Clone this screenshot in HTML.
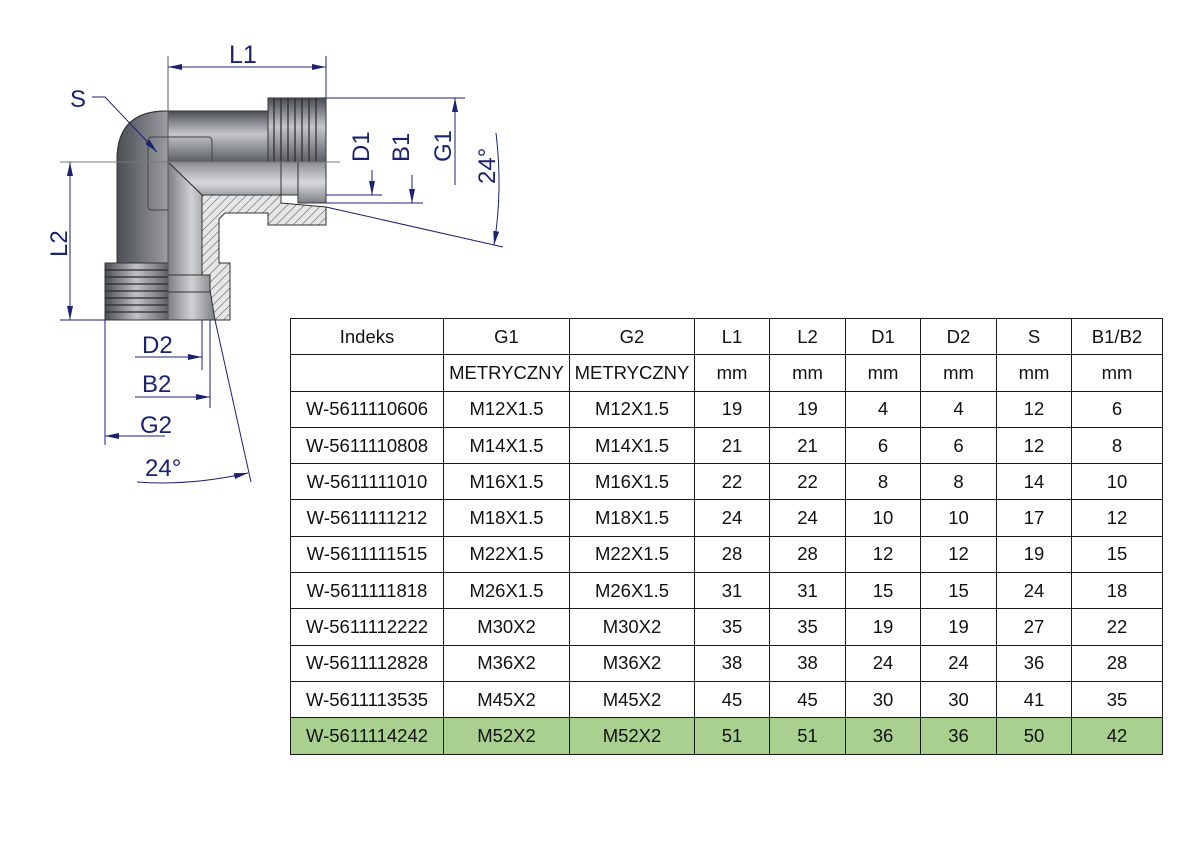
<!DOCTYPE html>
<html><head><meta charset="utf-8"><style>
body{margin:0;width:1191px;height:842px;background:#fff;position:relative;overflow:hidden;font-family:"Liberation Sans",sans-serif}
table{position:absolute;left:290px;top:318px;border-collapse:collapse;table-layout:fixed}
td{border:1.3px solid #1a1a1a;height:35.3px;padding:0;text-align:center;font-size:18.5px;color:#111;white-space:nowrap;overflow:hidden}
tr.g td{background:#a9d08e}
svg{position:absolute;left:0;top:0}
.t{font-family:"Liberation Sans",sans-serif;font-size:24px;fill:#1b2270}
</style></head><body>
<svg width="1191" height="842" viewBox="0 0 1191 842">
<defs>
<linearGradient id="gv" x1="0" y1="0" x2="0" y2="1"><stop offset="0" stop-color="#4a4e54"/><stop offset=".45" stop-color="#c4c6c9"/><stop offset="1" stop-color="#5a5e64"/></linearGradient>
<linearGradient id="gh" x1="0" y1="0" x2="1" y2="0"><stop offset="0" stop-color="#4a4e54"/><stop offset=".5" stop-color="#c0c2c5"/><stop offset="1" stop-color="#606469"/></linearGradient>
<linearGradient id="gb" x1="0" y1="0" x2="0" y2="1"><stop offset="0" stop-color="#8a8d92"/><stop offset=".5" stop-color="#d8d9db"/><stop offset="1" stop-color="#7c8085"/></linearGradient>
<linearGradient id="gbv" x1="0" y1="0" x2="1" y2="0"><stop offset="0" stop-color="#7c8085"/><stop offset=".5" stop-color="#d0d1d4"/><stop offset="1" stop-color="#7c8085"/></linearGradient>
<pattern id="hatch" width="6" height="6" patternUnits="userSpaceOnUse" patternTransform="rotate(45)"><rect width="6" height="6" fill="#e6e6e6"/><line x1="0" y1="0" x2="0" y2="6" stroke="#555" stroke-width="1"/></pattern>
<marker id="a" markerWidth="14" markerHeight="6" refX="14" refY="3" orient="auto" markerUnits="userSpaceOnUse"><path d="M0,0 L14,3 L0,6 z" fill="#1b2270"/></marker>
</defs>
<g stroke="#333" stroke-width="1">
<path d="M117,263 L117,160 Q117,111 166,111 L268,111 L268,162 L168,162 L168,263 Z" fill="url(#gh)"/>
<rect x="168" y="111" width="100" height="51" fill="url(#gv)" stroke="none"/>
<path d="M117,263 L117,160 Q117,111 166,111 L268,111" fill="none"/>
<rect x="268" y="98" width="58" height="64" fill="url(#gv)"/>
<g stroke="#2a2a2a" stroke-width="1.2">
<line x1="274" y1="98" x2="274" y2="162"/><line x1="281" y1="98" x2="281" y2="162"/><line x1="288" y1="98" x2="288" y2="162"/><line x1="295" y1="98" x2="295" y2="162"/><line x1="302" y1="98" x2="302" y2="162"/><line x1="309" y1="98" x2="309" y2="162"/><line x1="316" y1="98" x2="316" y2="162"/></g>
<path d="M168,162 L326,162 L326,203 L298,203 L298,195 L202,195 Z" fill="url(#gb)"/>
<line x1="281" y1="162" x2="281" y2="203"/><line x1="298" y1="162" x2="298" y2="203"/>
<path d="M168,162 L202,195 L202,275 L210,275 L215,320 L168,320 Z" fill="url(#gbv)"/>
<line x1="168" y1="275" x2="210" y2="275"/><line x1="168" y1="292" x2="210" y2="292"/>
<path d="M202,195 L281,195 L281,203 L326,207 L326,225 L268,225 L268,213 L225,213 L219,219 L219,263 L230,263 L230,320 L215,320 L210,290 L210,275 L202,275 Z" fill="url(#hatch)"/>
<rect x="105" y="263" width="63" height="57" fill="url(#gh)"/>
<g stroke="#2a2a2a" stroke-width="1.2">
<line x1="105" y1="270" x2="168" y2="270"/><line x1="105" y1="277" x2="168" y2="277"/><line x1="105" y1="284" x2="168" y2="284"/><line x1="105" y1="291" x2="168" y2="291"/><line x1="105" y1="298" x2="168" y2="298"/><line x1="105" y1="305" x2="168" y2="305"/><line x1="105" y1="312" x2="168" y2="312"/></g>
<path d="M168,210 L152,210 Q148,210 148,206 L148,141 Q148,137 152,137 L208,137 Q212,137 212,141 L212,162" fill="none" stroke="#444"/>
</g>
<g stroke="#1b2270" stroke-width="1" fill="none">
<line x1="168" y1="56" x2="168" y2="320" stroke="#555"/>
<line x1="326" y1="56" x2="326" y2="98"/>
<line x1="168" y1="67" x2="326" y2="67" marker-end="url(#a)"/>
<line x1="326" y1="67" x2="168" y2="67" marker-end="url(#a)"/>
<line x1="60" y1="162" x2="340" y2="162" stroke="#777"/>
<line x1="60" y1="320" x2="105" y2="320"/>
<line x1="70" y1="320" x2="70" y2="162" marker-end="url(#a)"/>
<line x1="70" y1="162" x2="70" y2="320" marker-end="url(#a)"/>
<path d="M92,97 L105,97 L157,152" marker-end="url(#a)"/>
<line x1="326" y1="195" x2="382" y2="195"/>
<line x1="372" y1="170" x2="372" y2="195" marker-end="url(#a)"/>
<line x1="326" y1="203" x2="423" y2="203"/>
<line x1="412" y1="175" x2="412" y2="203" marker-end="url(#a)"/>
<line x1="326" y1="98" x2="465" y2="98"/>
<line x1="455" y1="185" x2="455" y2="98" marker-end="url(#a)"/>
<line x1="326" y1="207" x2="503" y2="247"/>
<path d="M496,133 Q503,190 494,245" marker-end="url(#a)"/>
<line x1="202" y1="320" x2="202" y2="370"/>
<line x1="135" y1="357" x2="202" y2="357" marker-end="url(#a)"/>
<line x1="210" y1="320" x2="210" y2="408"/>
<line x1="135" y1="397" x2="210" y2="397" marker-end="url(#a)"/>
<line x1="105" y1="320" x2="105" y2="445"/>
<line x1="165" y1="436" x2="105" y2="436" marker-end="url(#a)"/>
<line x1="215" y1="320" x2="251" y2="482"/>
<path d="M137,482 Q190,486 248,473" marker-end="url(#a)"/>
</g>
<g class="t">
<text x="229" y="63" style="font-size:25px">L1</text>
<text x="70" y="107">S</text>
<text x="142" y="353">D2</text>
<text x="142" y="392">B2</text>
<text x="140" y="433">G2</text>
<text x="145" y="476">24°</text>
<text transform="translate(67,257) rotate(-90)">L2</text>
<text transform="translate(369,162) rotate(-90)">D1</text>
<text transform="translate(409,162) rotate(-90)">B1</text>
<text transform="translate(451,162) rotate(-90)">G1</text>
<text transform="translate(495,184) rotate(-90)">24°</text>
</g>
</svg>
<table>
<colgroup><col style="width:153px"><col style="width:126px"><col style="width:125px"><col style="width:75px"><col style="width:76px"><col style="width:75px"><col style="width:76px"><col style="width:75px"><col style="width:91px"></colgroup>
<tr><td>Indeks</td><td>G1</td><td>G2</td><td>L1</td><td>L2</td><td>D1</td><td>D2</td><td>S</td><td>B1/B2</td></tr>
<tr><td></td><td>METRYCZNY</td><td>METRYCZNY</td><td>mm</td><td>mm</td><td>mm</td><td>mm</td><td>mm</td><td>mm</td></tr>
<tr><td>W-5611110606</td><td>M12X1.5</td><td>M12X1.5</td><td>19</td><td>19</td><td>4</td><td>4</td><td>12</td><td>6</td></tr>
<tr><td>W-5611110808</td><td>M14X1.5</td><td>M14X1.5</td><td>21</td><td>21</td><td>6</td><td>6</td><td>12</td><td>8</td></tr>
<tr><td>W-5611111010</td><td>M16X1.5</td><td>M16X1.5</td><td>22</td><td>22</td><td>8</td><td>8</td><td>14</td><td>10</td></tr>
<tr><td>W-5611111212</td><td>M18X1.5</td><td>M18X1.5</td><td>24</td><td>24</td><td>10</td><td>10</td><td>17</td><td>12</td></tr>
<tr><td>W-5611111515</td><td>M22X1.5</td><td>M22X1.5</td><td>28</td><td>28</td><td>12</td><td>12</td><td>19</td><td>15</td></tr>
<tr><td>W-5611111818</td><td>M26X1.5</td><td>M26X1.5</td><td>31</td><td>31</td><td>15</td><td>15</td><td>24</td><td>18</td></tr>
<tr><td>W-5611112222</td><td>M30X2</td><td>M30X2</td><td>35</td><td>35</td><td>19</td><td>19</td><td>27</td><td>22</td></tr>
<tr><td>W-5611112828</td><td>M36X2</td><td>M36X2</td><td>38</td><td>38</td><td>24</td><td>24</td><td>36</td><td>28</td></tr>
<tr><td>W-5611113535</td><td>M45X2</td><td>M45X2</td><td>45</td><td>45</td><td>30</td><td>30</td><td>41</td><td>35</td></tr>
<tr class="g"><td>W-5611114242</td><td>M52X2</td><td>M52X2</td><td>51</td><td>51</td><td>36</td><td>36</td><td>50</td><td>42</td></tr>
</table>
</body></html>
